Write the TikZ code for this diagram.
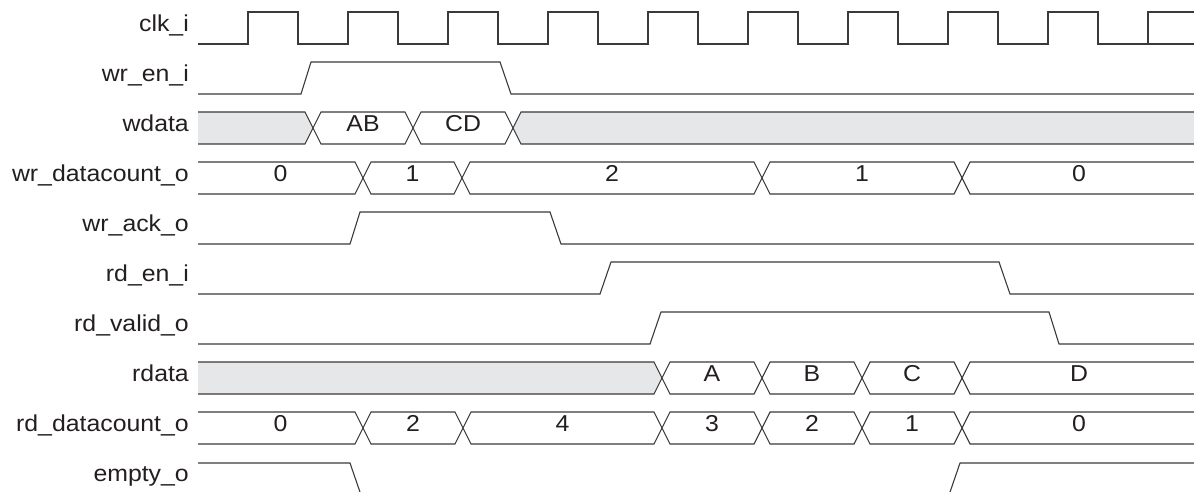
\documentclass[tikz,border=0pt]{standalone}
\usepackage{fontspec}
\setmainfont[FakeStretch=1.08]{Liberation Sans}
\definecolor{wave}{HTML}{3A3A3A}
\definecolor{txt}{HTML}{231F20}
\definecolor{hatch}{HTML}{E6E7E8}
\tikzset{
  sig/.style={draw=wave, line width=1.1pt, line join=miter},
  busw/.style={draw=wave, line width=1.1pt, fill=white},
  busg/.style={draw=wave, line width=1.1pt, fill=hatch},
  lbl/.style={anchor=mid east, inner sep=0pt, text=txt, font=\fontsize{23}{26}\selectfont},
  val/.style={anchor=mid, inner sep=0pt, text=txt, font=\fontsize{23}{26}\selectfont},
}
% first (left-open) segment: style, a, b, top, name, text
\newcommand{\segfirst}[6]{%
  \fill[#1,draw=none] (#2,#4) -- (#3-8,#4) -- (#3,#4+16) -- (#3-8,#4+32) -- (#2,#4+32) -- cycle;
  \draw[#1,fill=none] (#2,#4) -- (#3-8,#4) -- (#3,#4+16) -- (#3-8,#4+32) -- (#2,#4+32);
  \node[val] (#5) at ({(#2+#3)/2},#4+17) {#6};}
\newcommand{\segmid}[6]{%
  \draw[#1] (#2,#4+16) -- (#2+8,#4) -- (#3-8,#4) -- (#3,#4+16) -- (#3-8,#4+32) -- (#2+8,#4+32) -- cycle;
  \node[val] (#5) at ({(#2+#3)/2},#4+17) {#6};}
\newcommand{\seglast}[6]{%
  \fill[#1,draw=none] (#3,#4) -- (#2+8,#4) -- (#2,#4+16) -- (#2+8,#4+32) -- (#3,#4+32) -- cycle;
  \draw[#1,fill=none] (#3,#4) -- (#2+8,#4) -- (#2,#4+16) -- (#2+8,#4+32) -- (#3,#4+32);
  \node[val] (#5) at ({(#2+#3)/2},#4+17) {#6};}
% gray segments without text
\newcommand{\gfirst}[3]{%
  \fill[busg,draw=none] (#1,#3) -- (#2-8,#3) -- (#2,#3+16) -- (#2-8,#3+32) -- (#1,#3+32) -- cycle;
  \draw[busg,fill=none] (#1,#3) -- (#2-8,#3) -- (#2,#3+16) -- (#2-8,#3+32) -- (#1,#3+32);}
\newcommand{\glast}[3]{%
  \fill[busg,draw=none] (#2,#3) -- (#1+8,#3) -- (#1,#3+16) -- (#1+8,#3+32) -- (#2,#3+32) -- cycle;
  \draw[busg,fill=none] (#2,#3) -- (#1+8,#3) -- (#1,#3+16) -- (#1+8,#3+32) -- (#2,#3+32);}
\begin{document}
\begin{tikzpicture}[x=1pt,y=-1pt]
\useasboundingbox (0,0) rectangle (1194,492);
\clip (0,0) rectangle (1194,492);
% labels
\node[lbl] (Lclk)  at (189,29)  {clk\_i};
\node[lbl] (Lwren) at (189,79)  {wr\_en\_i};
\node[lbl] (Lwd)   at (189,129) {wdata};
\node[lbl] (Lwdc)  at (189,179) {wr\_datacount\_o};
\node[lbl] (Lack)  at (189,229) {wr\_ack\_o};
\node[lbl] (Lrden) at (189,279) {rd\_en\_i};
\node[lbl] (Lrv)   at (189,329) {rd\_valid\_o};
\node[lbl] (Lrd)   at (189,379) {rdata};
\node[lbl] (Lrdc)  at (189,429) {rd\_datacount\_o};
\node[lbl] (Lemp)  at (189,479) {empty\_o};
% clock
\draw[sig] (198,44)
  \foreach \k in {0,...,9} { -- ({248+100*\k},44) -- ({248+100*\k},12) -- ({298+100*\k},12) -- ({298+100*\k},44) }
  -- (1148,44) -- (1148,12) -- (1196,12);
% wr_en_i
\draw[sig] (198,94) -- (301,94) -- (311,62) -- (500,62) -- (511,94) -- (1196,94);
% wdata
\gfirst{198}{313}{112}
\segmid{busw}{313}{413}{112}{wdAB}{AB}
\segmid{busw}{413}{513}{112}{wdCD}{CD}
\glast{513}{1196}{112}
% wr_datacount_o
\segfirst{busw}{198}{363}{162}{wc0}{0}
\segmid{busw}{363}{462}{162}{wc1}{1}
\segmid{busw}{462}{762}{162}{wc2}{2}
\segmid{busw}{762}{962}{162}{wc1b}{1}
\seglast{busw}{962}{1196}{162}{wc0b}{0}
% wr_ack_o
\draw[sig] (198,244) -- (350,244) -- (360,212) -- (550,212) -- (561,244) -- (1196,244);
% rd_en_i
\draw[sig] (198,294) -- (600,294) -- (611,262) -- (999,262) -- (1010,294) -- (1196,294);
% rd_valid_o
\draw[sig] (198,344) -- (650,344) -- (661,312) -- (1049,312) -- (1059,344) -- (1196,344);
% rdata
\gfirst{198}{662}{362}
\segmid{busw}{662}{762}{362}{rdA}{A}
\segmid{busw}{762}{862}{362}{rdB}{B}
\segmid{busw}{862}{962}{362}{rdC}{C}
\seglast{busw}{962}{1196}{362}{rdD}{D}
% rd_datacount_o
\segfirst{busw}{198}{363}{412}{rc0}{0}
\segmid{busw}{363}{463}{412}{rc2}{2}
\segmid{busw}{463}{662}{412}{rc4}{4}
\segmid{busw}{662}{762}{412}{rc3}{3}
\segmid{busw}{762}{862}{412}{rc2b}{2}
\segmid{busw}{862}{962}{412}{rc1}{1}
\seglast{busw}{962}{1196}{412}{rc0b}{0}
% empty_o
\draw[sig] (198,463) -- (350,463) -- (361,495);
\draw[sig] (949,495) -- (960,463) -- (1196,463);
\end{tikzpicture}
\end{document}
